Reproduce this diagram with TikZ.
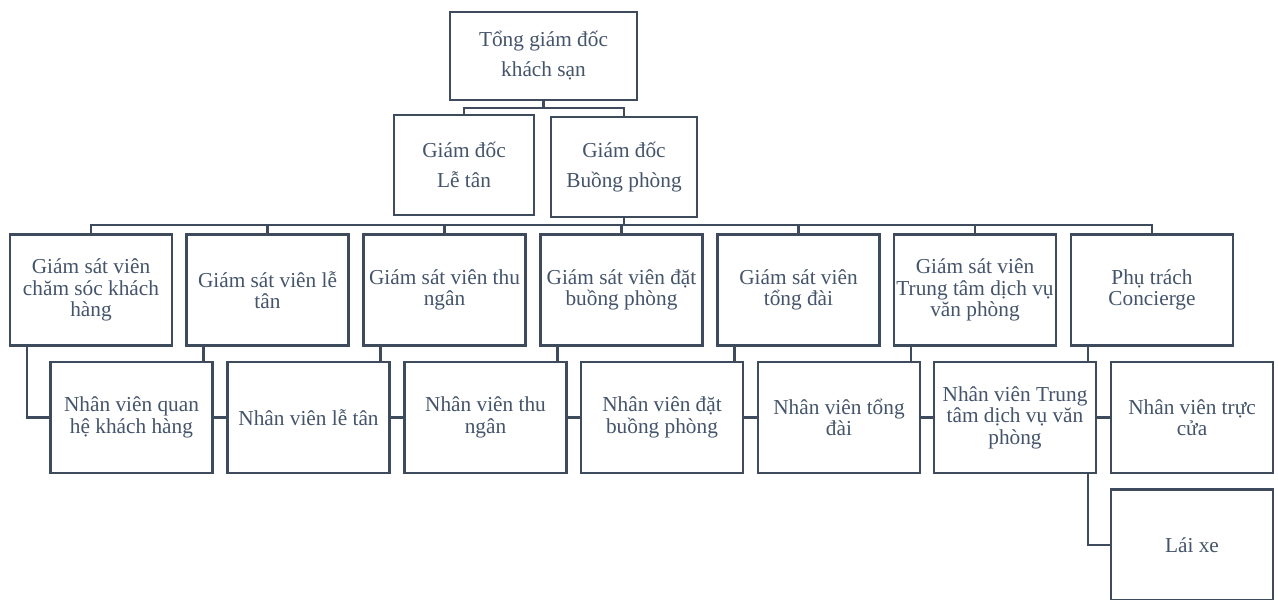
\documentclass[tikz,border=0pt]{standalone}
\usepackage{fontspec}
\setmainfont{Liberation Serif}
\usetikzlibrary{backgrounds}
\definecolor{lineclr}{HTML}{3E4B5C}
\definecolor{textclr}{HTML}{44546A}
\tikzset{
  box/.style={draw=lineclr, line width=2.3pt, fill=white, rectangle,
    inner sep=0pt, outer sep=0pt, text=textclr, align=center,
    minimum width=162pt, minimum height=111pt,
    font=\fontsize{21.3pt}{21.5pt}\selectfont},
  headbox/.style={box, font=\fontsize{21.3pt}{30pt}\selectfont},
  link/.style={draw=lineclr, line width=2.3pt}
}
\begin{document}
\begin{tikzpicture}[x=1pt,y=-1pt]
\useasboundingbox (0,0) rectangle (1278,600);

% management
\node[headbox, minimum width=187pt, minimum height=88pt] (gm) at (543.5,56) {Tổng giám đốc\\khách sạn};
\node[headbox, minimum width=140pt, minimum height=100pt] (fo) at (464,165) {Giám đốc\\Lễ tân};
\node[headbox, minimum width=146pt, minimum height=100pt] (hk) at (624,167) {Giám đốc\\Buồng phòng};

% supervisors
\node[box] (s1) at (91,290) {Giám sát viên\\chăm sóc khách\\hàng};
\node[box] (s2) at (267.5,290) {Giám sát viên lễ\\tân};
\node[box] (s3) at (444.5,290) {Giám sát viên thu\\ngân};
\node[box] (s4) at (621.5,290) {Giám sát viên đặt\\buồng phòng};
\node[box] (s5) at (798.5,290) {Giám sát viên\\tổng đài};
\node[box] (s6) at (975,290) {Giám sát viên\\Trung tâm dịch vụ\\văn phòng};
\node[box] (s7) at (1152,290) {Phụ trách\\Concierge};

% staff
\node[box] (n1) at (131.5,417.5) {Nhân viên quan\\hệ khách hàng};
\node[box] (n2) at (308.5,417.5) {Nhân viên lễ tân};
\node[box] (n3) at (485.5,417.5) {Nhân viên thu\\ngân};
\node[box] (n4) at (662,417.5) {Nhân viên đặt\\buồng phòng};
\node[box] (n5) at (839,417.5) {Nhân viên tổng\\đài};
\node[box] (n6) at (1015,417.5) {Nhân viên Trung\\tâm dịch vụ văn\\phòng};
\node[box] (n7) at (1192,417.5) {Nhân viên trực\\cửa};
\node[box] (dr) at (1192,545) {Lái xe};

\begin{scope}[on background layer]
  \draw[link] (gm.south) -- ++(0,8) -| (fo.north);
  \draw[link] (gm.south) -- ++(0,8) -| (hk.north);
  \foreach \s in {s1,s2,s3,s4,s5,s6,s7}
    \draw[link] (hk.south) -- ++(0,8) -| (\s.north);
  \foreach \s/\n in {s1/n1,s2/n2,s3/n3,s4/n4,s5/n5,s6/n6,s7/n7}
    \draw[link] ([xshift=17pt]\s.south west) |- (\n.west);
  \draw[link] ([xshift=17pt]s7.south west) |- (dr.west);
\end{scope}
\end{tikzpicture}
\end{document}
